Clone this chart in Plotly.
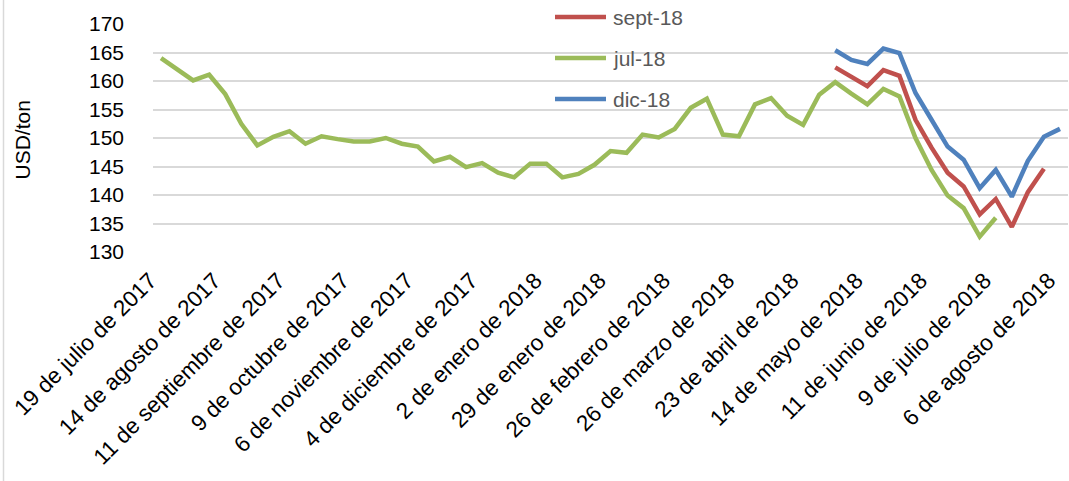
import plotly.graph_objects as go

categories = [
    "19 de julio de 2017", "24 de julio de 2017", "31 de julio de 2017", "7 de agosto de 2017",
    "14 de agosto de 2017", "21 de agosto de 2017", "28 de agosto de 2017", "4 de septiembre de 2017",
    "11 de septiembre de 2017", "18 de septiembre de 2017", "25 de septiembre de 2017", "2 de octubre de 2017",
    "9 de octubre de 2017", "16 de octubre de 2017", "23 de octubre de 2017", "30 de octubre de 2017",
    "6 de noviembre de 2017", "13 de noviembre de 2017", "20 de noviembre de 2017", "27 de noviembre de 2017",
    "4 de diciembre de 2017", "11 de diciembre de 2017", "18 de diciembre de 2017", "26 de diciembre de 2017",
    "2 de enero de 2018", "8 de enero de 2018", "16 de enero de 2018", "22 de enero de 2018",
    "29 de enero de 2018", "5 de febrero de 2018", "12 de febrero de 2018", "20 de febrero de 2018",
    "26 de febrero de 2018", "5 de marzo de 2018", "12 de marzo de 2018", "19 de marzo de 2018",
    "26 de marzo de 2018", "2 de abril de 2018", "9 de abril de 2018", "16 de abril de 2018",
    "23 de abril de 2018", "30 de abril de 2018", "4 de mayo de 2018", "7 de mayo de 2018",
    "14 de mayo de 2018", "21 de mayo de 2018", "29 de mayo de 2018", "4 de junio de 2018",
    "11 de junio de 2018", "18 de junio de 2018", "25 de junio de 2018", "2 de julio de 2018",
    "9 de julio de 2018", "16 de julio de 2018", "23 de julio de 2018", "30 de julio de 2018",
    "6 de agosto de 2018",
]

tick_labels = categories[::4]

jul_18 = [
    164.0, 162.1, 160.1, 161.1, 157.7, 152.5, 148.7, 150.2, 151.2, 149.0,
    150.3, 149.8, 149.4, 149.4, 150.0, 149.0, 148.5, 145.9, 146.7, 144.9,
    145.6, 143.9, 143.1, 145.5, 145.5, 143.1, 143.7, 145.3, 147.7, 147.4,
    150.6, 150.1, 151.6, 155.3, 156.9, 150.6, 150.3, 155.9, 157.0, 153.9,
    152.3, 157.6, 159.8, 157.8, 155.9, 158.6, 157.3, 150.0, 144.4, 139.9,
    137.7, 132.7, 136.0, None, None, None, None,
]

sept_18 = [None] * 42 + [
    162.4, 160.8, 159.1, 161.9, 160.9, 153.2, 148.3, 143.9, 141.5, 136.6,
    139.3, 134.4, 140.5, 144.6, None,
]

dic_18 = [None] * 42 + [
    165.4, 163.7, 163.0, 165.7, 164.9, 157.9, 153.2, 148.5, 146.2, 141.2,
    144.4, 139.7, 146.0, 150.2, 151.6,
]

series_names = ["sept-18", "jul-18", "dic-18"]
series_values = [sept_18, jul_18, dic_18]
series_colors = ["#C0504D", "#9BBB59", "#4F81BD"]

FONT = "Liberation Sans, Arial, sans-serif"
W, H = 1069, 481
L, R, T, B = 153, 1, 24, 229
PW, PH = W - L - R, H - T - B


def px_x(p):
    return (p - L) / PW


def px_y(p):
    return (H - B - p) / PH


fig = go.Figure()
for name, vals, col in zip(series_names, series_values, series_colors):
    fig.add_trace(go.Scatter(
        x=categories, y=vals, name=name, mode="lines",
        line=dict(color=col, width=4.5), connectgaps=False, showlegend=False,
    ))

# manual legend (line sample + text), placed as in the reference
legend_rows_px = [17, 58, 99]
shapes = [dict(
    type="line", xref="paper", yref="paper", x0=px_x(3.5), x1=px_x(3.5),
    y0=px_y(0), y1=px_y(H), line=dict(color="#D9D9D9", width=1.5),
)]
annotations = [dict(
    text="USD/ton", xref="paper", yref="paper", x=px_x(21.5), y=px_y(140),
    xanchor="center", yanchor="middle", textangle=-90, showarrow=False,
    font=dict(family=FONT, size=21, color="#000000"),
)]
for name, col, ry in zip(series_names, series_colors, legend_rows_px):
    shapes.append(dict(
        type="line", xref="paper", yref="paper", x0=px_x(555), x1=px_x(606),
        y0=px_y(ry), y1=px_y(ry), line=dict(color=col, width=4.5),
    ))
    annotations.append(dict(
        text=name, xref="paper", yref="paper", x=px_x(611), y=px_y(ry),
        xanchor="left", yanchor="middle", showarrow=False,
        font=dict(family=FONT, size=21, color="#595959"),
    ))

fig.update_layout(
    width=W, height=H,
    margin=dict(l=L, r=R, t=T, b=B, autoexpand=False),
    paper_bgcolor="white", plot_bgcolor="white",
    font=dict(family=FONT, size=21, color="#000000"),
    showlegend=False,
    xaxis=dict(
        type="category", categoryorder="array", categoryarray=categories,
        range=[-0.5, len(categories) - 0.5], automargin=False,
        tickmode="array", tickvals=tick_labels, ticktext=tick_labels,
        tickangle=-45, showgrid=False, showline=False, zeroline=False,
        ticks="", ticklabelshift=-11, ticklabelstandoff=10,
        tickfont=dict(family=FONT, size=22.5, color="#000000"),
    ),
    yaxis=dict(
        range=[130, 170], tickmode="linear", tick0=130, dtick=5,
        showgrid=True, gridcolor="#D9D9D9", gridwidth=1.5, automargin=False,
        showline=False, zeroline=False, ticks="",
        ticklabelstandoff=28,
        tickfont=dict(family=FONT, size=21, color="#000000"),
    ),
    annotations=annotations,
    shapes=shapes,
)

fig.write_html(
    "out.html",
    config={"displayModeBar": False},
    post_script="document.body.style.margin='0px';document.body.style.padding='0px';",
)
